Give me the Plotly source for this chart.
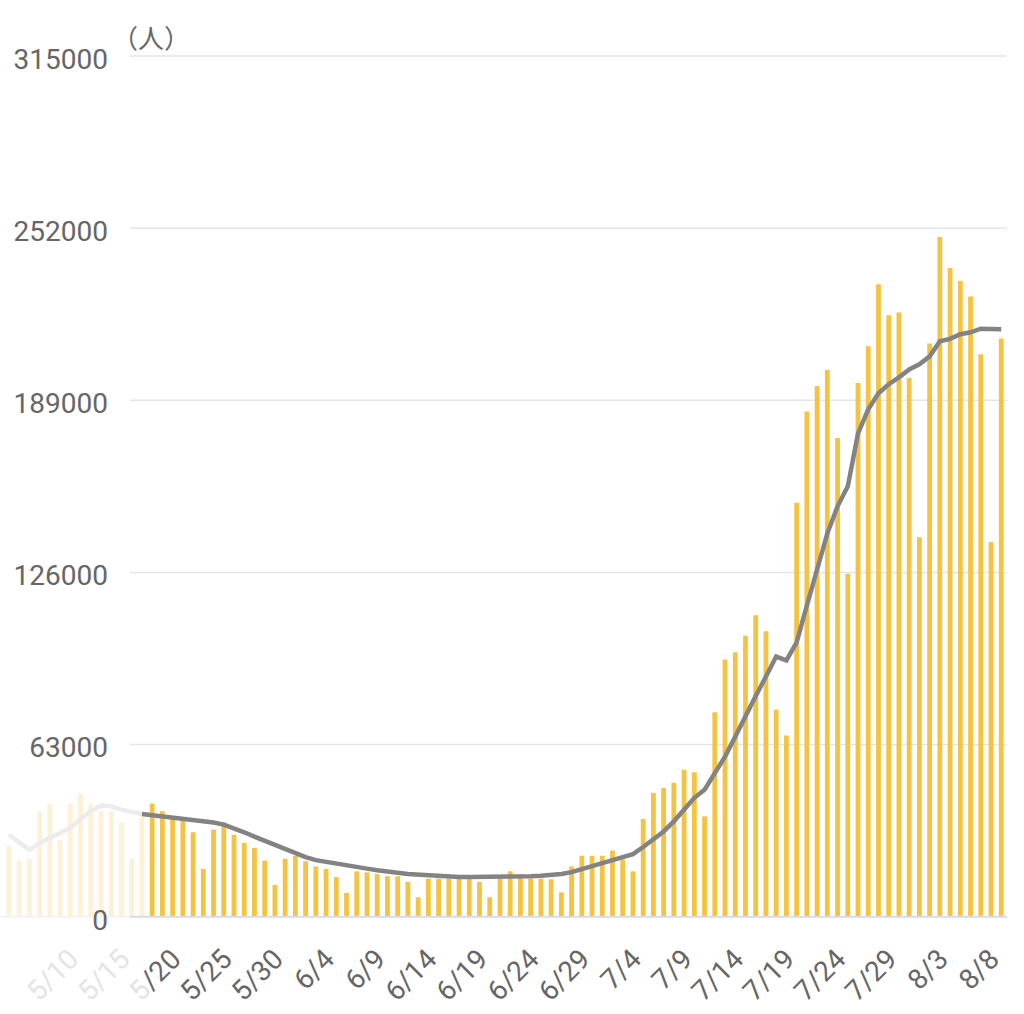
import plotly.graph_objects as go
import pandas as pd

# ---------------- data ----------------
dates = pd.date_range("2022-05-04", "2022-08-09", freq="D")

cases = [
    # May 4 - May 31
    26000, 20500, 21200, 38600, 41400, 28000, 41400, 45000, 41400, 38600,
    38600, 34500, 21200, 36600, 41400, 38600, 35500, 35300, 30900, 17500,
    31900, 34500, 30000, 27000, 25200, 20500, 11600, 21200,
    # June
    22300, 20300, 18400, 17500, 14500, 8700, 16600, 16200, 15600, 14800,
    14800, 12700, 7100, 13900, 13900, 13900, 13900, 13900, 12700, 7100,
    13900, 16600, 15500, 13900, 13900, 13700, 8900, 18400, 22300, 22300,
    # July
    22300, 24200, 20900, 16600, 35800, 45300, 47100, 49000, 53800, 52900,
    36700, 74800, 94100, 96800, 102800, 110300, 104500, 75800, 66300, 151500,
    184900, 194200, 200100, 175200, 125500, 195300, 208800, 231500, 220100, 221100,
    197200,
    # August 1 - 9
    138900, 209800, 248800, 237400, 232700, 227000, 205900, 137100, 211600,
]

avg7 = [
    # May 4 - May 31
    30000, 27000, 24500, 27000, 28800, 30400, 32500, 35800, 38600, 40700,
    40400, 39200, 38300, 37600, 37200, 36600, 36300, 35900, 35500, 35200,
    34500, 33700, 32400, 30900, 29300, 27800, 26200, 24500,
    # June
    23100, 21800, 20700, 20000, 19400, 18900, 18300, 17600, 17000, 16700,
    16100, 15600, 15300, 15000, 14800, 14700, 14500, 14500, 14500, 14500,
    14500, 14700, 14700, 14800, 15000, 15200, 15600, 16300, 17400, 18500,
    # July
    19600, 20700, 21800, 22900, 25500, 28200, 31200, 34900, 39200, 43500,
    46500, 52400, 58600, 65900, 73600, 80800, 87900, 95200, 93800, 100400,
    113900, 127500, 140300, 150200, 157500, 176900, 185700, 191600, 194900, 197400,
    200300,
    # August 1 - 9
    202200, 205100, 210600, 211500, 213200, 213900, 215200, 215200, 215000,
]

y_ticks = [0, 63000, 126000, 189000, 252000, 315000]

x_tick_dates = [
    "2022-05-05", "2022-05-10", "2022-05-15", "2022-05-20", "2022-05-25",
    "2022-05-30", "2022-06-04", "2022-06-09", "2022-06-14", "2022-06-19",
    "2022-06-24", "2022-06-29", "2022-07-04", "2022-07-09", "2022-07-14",
    "2022-07-19", "2022-07-24", "2022-07-29", "2022-08-03", "2022-08-08",
]
x_tick_labels = [
    "5/5", "5/10", "5/15", "5/20", "5/25", "5/30", "6/4", "6/9", "6/14",
    "6/19", "6/24", "6/29", "7/4", "7/9", "7/14", "7/19", "7/24", "7/29",
    "8/3", "8/8",
]
unit_label = "（人）"

first_bright_bar = 14   # 5/18
first_dark_point = 13   # 5/17

# ---------------- style ----------------
W, H = 1024, 1014
BAR = "#F5C342"
BAR_FADE = "#FDF2D6"
LINE = "#838383"
LINE_FADE = "#ECECEC"
TXT = "#666666"
TXT_FADE = "#E4E4E4"
FONT = "Roboto"

grid_x0 = 130 / W
grid_x1 = 1007 / W


def fade_label(lbl, d):
    if d < "2022-05-18":
        return f'<span style="color:{TXT_FADE}">{lbl}</span>'
    if d == "2022-05-20":
        m, rest = lbl.split("/", 1)
        return f'<span style="color:{TXT_FADE}">{m}</span>/{rest}'
    return lbl


ticktext = [fade_label(l, d) for l, d in zip(x_tick_labels, x_tick_dates)]

fig = go.Figure()

fig.add_trace(go.Bar(
    x=dates[:first_bright_bar], y=cases[:first_bright_bar],
    marker=dict(color=BAR_FADE, line=dict(width=0)), hoverinfo="skip"))
fig.add_trace(go.Bar(
    x=dates[first_bright_bar:], y=cases[first_bright_bar:],
    marker=dict(color=BAR, line=dict(width=0))))
fig.add_trace(go.Scatter(
    x=dates[:first_dark_point + 1], y=avg7[:first_dark_point + 1],
    mode="lines", line=dict(color=LINE_FADE, width=4.5), hoverinfo="skip"))
fig.add_trace(go.Scatter(
    x=dates[first_dark_point:], y=avg7[first_dark_point:],
    mode="lines", line=dict(color=LINE, width=4.5)))

shapes = []
for v in y_ticks:
    if v == 0:
        continue
    shapes.append(dict(type="line", xref="paper", yref="y",
                       x0=grid_x0, x1=grid_x1, y0=v, y1=v,
                       line=dict(color="#E3E5EA", width=1.5), layer="below"))
shapes.append(dict(type="line", xref="paper", yref="y",
                   x0=0, x1=grid_x0, y0=0, y1=0,
                   line=dict(color="#F2F4FA", width=2), layer="below"))
shapes.append(dict(type="line", xref="paper", yref="y",
                   x0=grid_x0, x1=grid_x1, y0=0, y1=0,
                   line=dict(color="#D3DBEE", width=2), layer="above"))

fig.update_layout(
    width=W, height=H,
    margin=dict(l=0, r=0, t=36, b=78),
    paper_bgcolor="white", plot_bgcolor="white",
    barmode="overlay", bargap=0.53,
    showlegend=False,
    font=dict(family=FONT, color=TXT),
    shapes=shapes,
    xaxis=dict(
        type="date",
        range=["2022-05-03 03:03", "2022-08-11 05:24"],
        showgrid=False, zeroline=False, showline=False,
        tickmode="array", tickvals=x_tick_dates, ticktext=ticktext,
        tickangle=-45, ticks="",
        tickfont=dict(family=FONT, size=28, color=TXT),
    ),
    yaxis=dict(
        range=[-7064, 322336],
        anchor="free", position=grid_x0,
        showgrid=False, zeroline=False, showline=False,
        tickmode="array", tickvals=y_ticks,
        ticktext=[str(v) for v in y_ticks],
        ticks="", ticklabelstandoff=22, ticklabelshift=3,
        tickfont=dict(family=FONT, size=28, color=TXT),
    ),
    annotations=[dict(
        text=unit_label, xref="paper", yref="paper",
        x=151 / W, y=1.0, xanchor="center", yanchor="middle",
        showarrow=False,
        font=dict(family="Noto Sans CJK JP", size=26, color=TXT),
    )],
)

fig.write_html("out.html")
